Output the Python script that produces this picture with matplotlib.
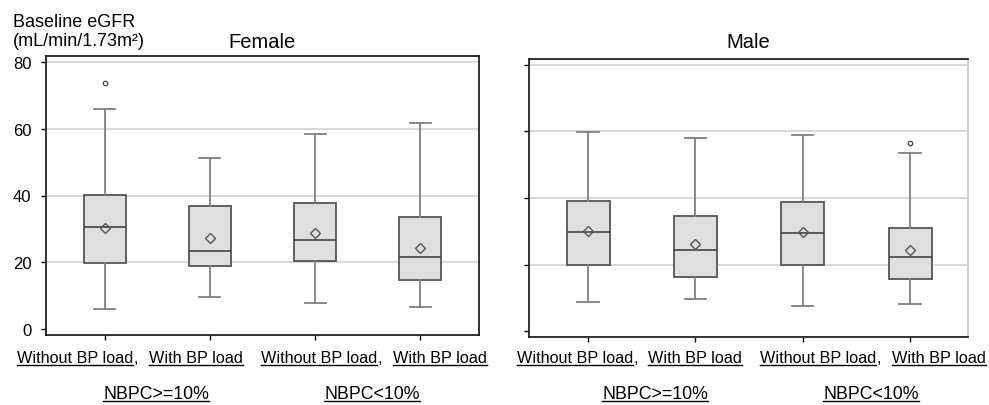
import matplotlib
matplotlib.use("Agg")
import matplotlib.pyplot as plt
from matplotlib.lines import Line2D

plt.rcParams["font.family"] = ["Liberation Sans", "DejaVu Sans"]

# ── data ─────────────────────────────────────────────────────────────────────
groups = ["Without BP load", "With BP load", "Without BP load", "With BP load"]
nbpc_labels = ["NBPC>=10%", "NBPC<10%"]

female_whislo = [6.1, 9.6, 7.9, 6.5]
female_q1     = [19.8, 19.0, 20.5, 14.8]
female_med    = [30.7, 23.3, 26.8, 21.7]
female_q3     = [40.2, 37.0, 37.8, 33.5]
female_whishi = [65.9, 51.1, 58.5, 61.6]
female_mean   = [30.2, 27.3, 28.7, 24.2]
female_fliers = [[73.8], [], [], []]

male_whislo = [8.6, 9.7, 7.5, 8.1]
male_q1     = [20.0, 16.1, 20.0, 15.6]
male_med    = [29.7, 24.3, 29.6, 22.2]
male_q3     = [39.2, 34.6, 38.8, 31.0]
male_whishi = [59.9, 58.0, 58.9, 53.6]
male_mean   = [30.1, 26.2, 29.7, 24.5]
male_fliers = [[], [], [], [56.6]]

yticks = [0, 20, 40, 60, 80]
grid_y = [20, 40, 60, 80]

W, H = 989, 406
BOX_FACE = "#dfdfdf"
BOX_EDGE = "#555555"
WHISK = "#808080"


def make_stats(lo, q1, med, q3, hi, mean, fliers):
    return [dict(whislo=a, q1=b, med=c, q3=d, whishi=e, mean=f, fliers=g)
            for a, b, c, d, e, f, g in zip(lo, q1, med, q3, hi, mean, fliers)]


def draw_panel(ax, stats, title, title_pad, xlim, show_labels):
    for gy in grid_y:
        ax.axhline(gy, color="#d8d8d8", lw=1.4, zorder=0)
    ax.bxp(stats, positions=[1, 2, 3, 4], widths=0.4, showmeans=True,
           patch_artist=True, manage_ticks=False,
           boxprops=dict(facecolor=BOX_FACE, edgecolor=BOX_EDGE, lw=1.3),
           whiskerprops=dict(color=WHISK, lw=1.3),
           capprops=dict(color=WHISK, lw=1.3),
           medianprops=dict(color="#444444", lw=1.2),
           meanprops=dict(marker="D", markersize=5.2, markerfacecolor="none",
                          markeredgecolor="#555555", markeredgewidth=1.0),
           flierprops=dict(marker="o", markersize=3.2, markerfacecolor="none",
                           markeredgecolor="#444444", markeredgewidth=0.9))
    ax.set_xlim(*xlim)
    ax.set_ylim(-1.8, 81.8)
    ax.set_yticks(yticks)
    ax.set_xticks([1, 2, 3, 4])
    ax.set_xticklabels([])
    ax.tick_params(axis="both", direction="out", length=3.5, width=1.0,
                   color="black", labelsize=12, pad=7)
    if not show_labels:
        ax.set_yticklabels([])
    for s in ax.spines.values():
        s.set_linewidth(1.3)
        s.set_color("#222222")
    ax.set_title(title, fontsize=14.5, pad=title_pad)


fig = plt.figure(figsize=(W / 100, H / 100), dpi=100)
ax_f = fig.add_axes([46 / W, 1 - 336 / H, 433 / W, 279 / H])
ax_m = fig.add_axes([529 / W, 1 - 338 / H, 439 / W, 278 / H])

draw_panel(ax_f, make_stats(female_whislo, female_q1, female_med, female_q3,
                            female_whishi, female_mean, female_fliers),
           "Female", 6.7, (0.44, 4.56), True)
draw_panel(ax_m, make_stats(male_whislo, male_q1, male_med, male_q3,
                            male_whishi, male_mean, male_fliers),
           "Male", 8.9, (0.45, 4.54), False)
ax_m.spines["right"].set_color("#cccccc")

# y-axis caption at top left
fig.text(13 / W, 1 - 26.7 / H, "Baseline eGFR", fontsize=13, va="baseline")
fig.text(13 / W, 1 - 45.7 / H, "(mL/min/1.73m\u00b2)", fontsize=13, va="baseline")

# category labels (pixel left edges) and group labels (pixel centres)
label_left_px = [[17, 149, 261, 393], [517, 648, 760, 892]]
group_center_px = [[156, 372], [655, 871]]
label_base = 1 - 363 / H
group_base = 1 - 399.5 / H

underlined = []
comma_after = []
for lefts, centers in zip(label_left_px, group_center_px):
    for i, (txt, px) in enumerate(zip(groups, lefts)):
        t = fig.text(px / W, label_base, txt, fontsize=11.7, va="baseline", ha="left")
        underlined.append(t)
        if i % 2 == 0:
            comma_after.append(t)
    for txt, px in zip(nbpc_labels, centers):
        underlined.append(fig.text(px / W, group_base, txt, fontsize=12.8,
                                   va="baseline", ha="center"))

fig.canvas.draw()
renderer = fig.canvas.get_renderer()
inv = fig.transFigure.inverted()
for t in underlined:
    bb = t.get_window_extent(renderer).transformed(inv)
    y = t.get_position()[1] - 2.5 / H
    fig.add_artist(Line2D([bb.x0, bb.x1], [y, y], color="black", lw=1.0,
                          transform=fig.transFigure))
for t in comma_after:
    bb = t.get_window_extent(renderer).transformed(inv)
    fig.text(bb.x1, t.get_position()[1], ",", fontsize=11.7, va="baseline", ha="left")

fig.savefig("out.png", dpi=100)
